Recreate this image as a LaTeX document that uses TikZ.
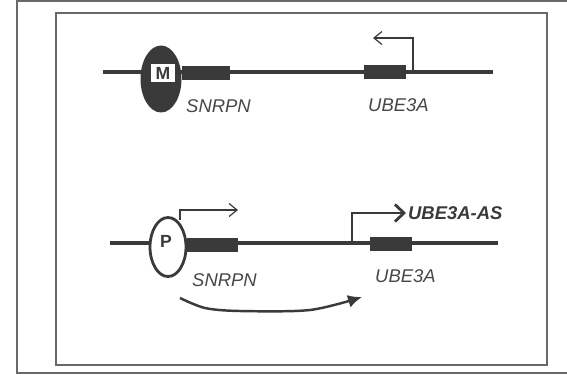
\documentclass[tikz,border=0pt]{standalone}
\usepackage{fontspec}
\setsansfont{Liberation Sans}
\usepackage{tikz}
\usetikzlibrary{arrows.meta}
\usetikzlibrary{positioning,shapes.geometric}
\definecolor{inkgray}{RGB}{58,58,58}
\definecolor{framegray}{RGB}{105,105,105}
\definecolor{labelgray}{RGB}{70,70,70}

\begin{document}
\begin{tikzpicture}[x=0.02cm,y=-0.02cm,
    dna/.style={inkgray,line width=2pt},
    exon/.style={fill=inkgray,inner sep=0pt,minimum width=0.84cm,minimum height=0.29cm},
    genelabel/.style={font=\sffamily\itshape\fontsize{10.5}{12}\selectfont,text=labelgray},
    tssarrow/.style={inkgray,line width=0.7pt,-{Straight Barb[length=1.6mm,width=2.6mm]}}]
    \useasboundingbox (0,0) rectangle (567,379);
    % frames
    \draw[framegray,line width=1.1pt] (567,1) -- (17,1) -- (17,373) -- (567,373);
    \draw[framegray,line width=0.6pt] (56,13) rectangle (547,365);

    % maternal allele
    \coordinate (mL) at (103,72);
    \coordinate (mR) at (493,72);
    \draw[dna] (mL) -- (mR);
    \node[ellipse,fill=inkgray,minimum width=0.82cm,minimum height=1.34cm,inner sep=0pt]
      (meth) at (161,79) {};
    \node[fill=white,draw=inkgray,line width=0.9pt,minimum width=0.5cm,minimum height=0.38cm,
      inner sep=0pt,font=\sffamily\bfseries\fontsize{10}{12}\selectfont,text=inkgray]
      (mbox) at (163,73) {M};
    \node[exon,minimum width=0.96cm] (snrpnA) at (206,73) {};
    \node[exon] (ubeA) at (385,72) {};
    \node[genelabel,anchor=west] (snrpnAlab) at (180,106) {SNRPN};
    \node[genelabel,anchor=west] (ubeAlab) at (362,105) {UBE3A};
    \coordinate (tssA) at (413,72);
    \coordinate (tssAend) at (373,38);
    \draw[tssarrow] (tssA) |- (tssAend);

    % paternal allele
    \coordinate (pL) at (110,243);
    \coordinate (pR) at (498,243);
    \draw[dna] (pL) -- (pR);
    \node[ellipse,draw=inkgray,fill=white,line width=1.6pt,minimum width=0.72cm,
      minimum height=1.18cm,inner sep=0pt] (unmeth) at (168,247) {};
    \node[font=\sffamily\bfseries\fontsize{10}{12}\selectfont,text=inkgray,inner sep=0pt]
      (plab) at (166,241) {P};
    \node[exon,minimum width=1.02cm] (snrpnB) at (212,245) {};
    \node[exon] (ubeB) at (391,244) {};
    \node[genelabel,anchor=west] (snrpnBlab) at (186,280) {SNRPN};
    \node[genelabel,anchor=west] (ubeBlab) at (369,276) {UBE3A};
    \coordinate (tssB) at (180,220);
    \coordinate (tssBend) at (238,210);
    \draw[tssarrow] (tssB) |- (tssBend);
    \node[font=\sffamily\bfseries\itshape\fontsize{10.5}{12}\selectfont,text=inkgray,
      anchor=west,inner sep=1pt] (aslab) at (406,213) {UBE3A-AS};
    \coordinate (tssAS) at (352,243);
    \draw[inkgray,line width=1.6pt,-{Straight Barb[length=1.8mm,width=3.4mm]}]
      (tssAS) |- (aslab.west);
    % silencing
    \draw[inkgray,line width=1.4pt,-{Latex[length=2.8mm,width=2.6mm]}] plot[smooth] coordinates
      {(180,298) (205,308) (240,311) (310,310) (362,297)};
\end{tikzpicture}
\end{document}
